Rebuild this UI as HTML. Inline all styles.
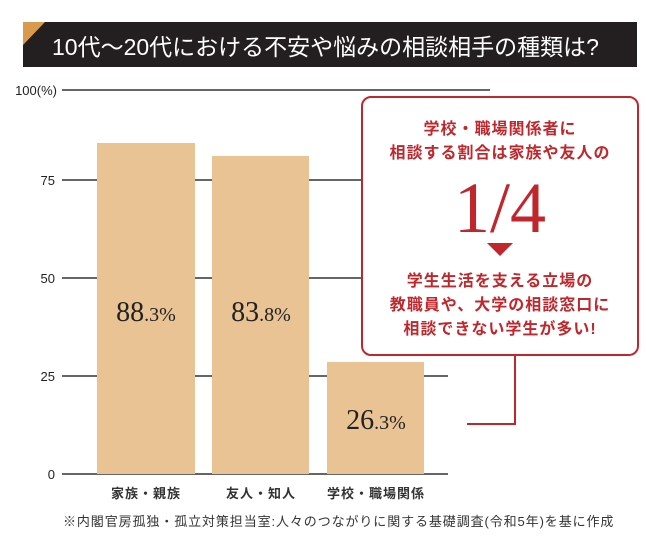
<!DOCTYPE html>
<html><head><meta charset="utf-8"><style>
body{margin:0;width:646px;height:555px;background:#fff;overflow:hidden;font-family:"Liberation Sans","Noto Sans CJK JP",sans-serif;}
svg{display:block}
</style></head><body>
<svg width="646" height="555" xmlns="http://www.w3.org/2000/svg">
<rect x="23" y="22" width="614" height="45" fill="#231f20"/>
<polygon points="23,22 45,22 23,45" fill="#d99a4e"/>
<text x="52" y="55" font-size="23" fill="#fff" font-family="Liberation Sans,Noto Sans CJK JP,sans-serif">10代〜20代における不安や悩みの相談相手の種類は?</text>
<g stroke="#333" stroke-width="1.5">
<line x1="62" y1="90" x2="490" y2="90"/>
<line x1="62" y1="180" x2="362" y2="180"/>
<line x1="62" y1="278" x2="362" y2="278"/>
<line x1="62" y1="376" x2="448" y2="376"/>
<line x1="62" y1="474" x2="448" y2="474"/>
</g>
<g font-size="13" fill="#222" text-anchor="end">
<text x="57" y="95">100(%)</text>
<text x="55" y="185">75</text>
<text x="55" y="283">50</text>
<text x="55" y="381">25</text>
<text x="55" y="479">0</text>
</g>
<g fill="#e9c393">
<rect x="97" y="143" width="98" height="331"/>
<rect x="212" y="156" width="97" height="318"/>
<rect x="327" y="362" width="97" height="112"/>
</g>
<g font-family="Liberation Serif,serif" fill="#222" text-anchor="middle">
<text x="146" y="321" font-size="28">88<tspan font-size="20">.3%</tspan></text>
<text x="261" y="321" font-size="28">83<tspan font-size="20">.8%</tspan></text>
<text x="376" y="429" font-size="28">26<tspan font-size="20">.3%</tspan></text>
</g>
<g font-size="13" font-weight="bold" fill="#333" text-anchor="middle" letter-spacing="1">
<text x="146" y="498">家族・親族</text>
<text x="261" y="498">友人・知人</text>
<text x="376" y="498">学校・職場関係</text>
</g>
<text x="63" y="526" font-size="13" fill="#333" letter-spacing="0.9">※内閣官房孤独・孤立対策担当室:人々のつながりに関する基礎調査(令和5年)を基に作成</text>
<rect x="362" y="97" width="276" height="258" rx="9" fill="#fff" stroke="#c0272d" stroke-width="2"/>
<polyline points="515,355 515,424 467,424" fill="none" stroke="#c0272d" stroke-width="2"/>
<g fill="#c0272d" font-size="16" font-weight="bold" text-anchor="middle" letter-spacing="1">
<text x="500" y="134">学校・職場関係者に</text>
<text x="500" y="158">相談する割合は家族や友人の</text>
<text x="500" y="286">学生生活を支える立場の</text>
<text x="500" y="310">教職員や、大学の相談窓口に</text>
<text x="500" y="334">相談できない学生が多い!</text>
</g>
<text x="500" y="232" font-family="Liberation Serif,serif" font-size="72" fill="#c0272d" text-anchor="middle">1/4</text>
<polygon points="487,243 513,243 500,256" fill="#c0272d"/>
</svg>
</body></html>
